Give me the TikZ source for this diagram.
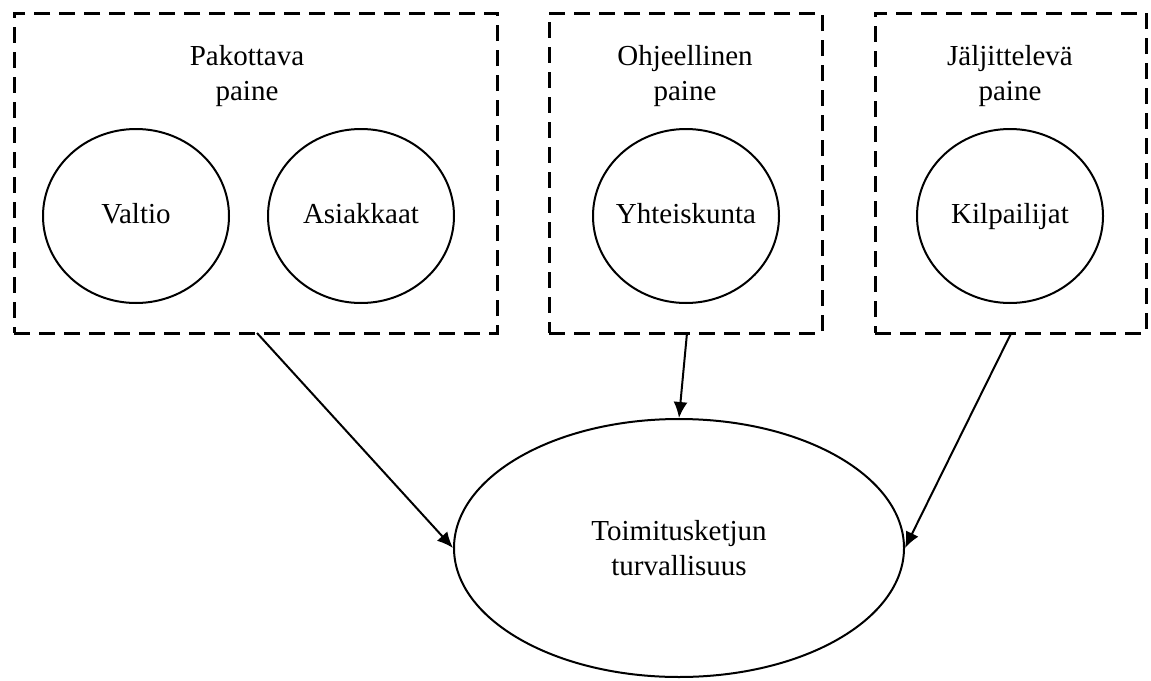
\documentclass[tikz,border=0pt]{standalone}
\usepackage{fontspec}
\setmainfont{Liberation Serif}
\usetikzlibrary{shapes.geometric,arrows.meta}

\begin{document}
\begin{tikzpicture}[x=0.5pt,y=-0.5pt,
  box/.style={draw,line width=1.5pt,dash pattern=on 8pt off 4.5pt,inner sep=0pt},
  actor/.style={draw,ellipse,line width=1pt,inner ysep=0pt,inner xsep=-12pt,minimum width=93pt,minimum height=87pt,text height=10pt,text depth=3pt},
  lbl/.style={align=center,font=\fontsize{14.5}{17.5}\selectfont},
  pressure/.style={-{Latex[length=8pt,width=7pt]},line width=1pt}]
\useasboundingbox (0,0) rectangle (1151,680);
\node[box,minimum width=241.5pt,minimum height=160pt] (pakko) at (255.5,173) {};
\node[box,minimum width=136.5pt,minimum height=160pt] (ohje) at (685.5,173) {};
\node[box,minimum width=135.5pt,minimum height=160pt] (jalji) at (1010.5,173) {};
\node[lbl] (pakkolbl) at (247,76) {Pakottava\\paine};
\node[lbl] (ohjelbl) at (685,76) {Ohjeellinen\\paine};
\node[lbl] (jaljilbl) at (1010,76) {Jäljittelevä\\paine};
\node[actor,lbl] (valtio) at (136,216) {Valtio};
\node[actor,lbl] (asiakkaat) at (361,216) {Asiakkaat};
\node[actor,lbl] (yhteiskunta) at (686,216) {Yhteiskunta};
\node[actor,lbl] (kilpailijat) at (1010,216) {Kilpailijat};
\node[draw,ellipse,line width=1pt,inner sep=0pt,minimum width=225pt,minimum height=129pt,lbl] (turva) at (679,548) {Toimitusketjun\\turvallisuus};
\coordinate (p1) at (257,333);
\coordinate (p2) at (687,333);
\draw[pressure] (p1) -- (turva.west);
\draw[pressure] (p2) -- (turva.north);
\draw[pressure] (jalji.south) -- (turva.east);
\end{tikzpicture}
\end{document}
